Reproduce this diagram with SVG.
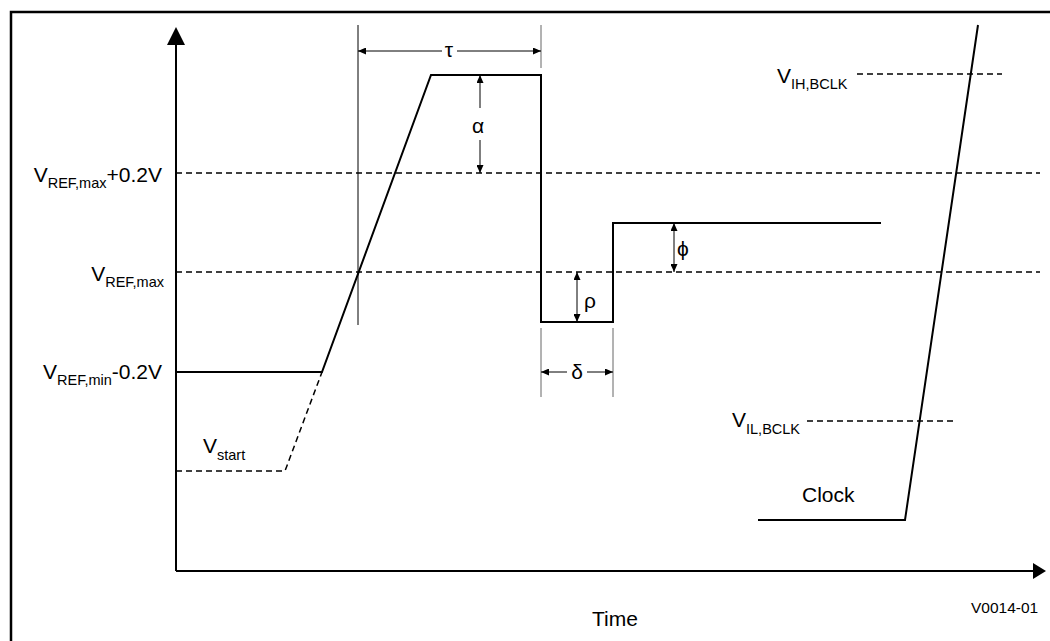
<svg xmlns="http://www.w3.org/2000/svg" width="1050" height="641" viewBox="0 0 1050 641">
<style>
text{font-family:"Liberation Sans",Arial,sans-serif;fill:#000}
.lbl{font-size:21px}
.sub{font-size:14.5px}
.gr{font-size:21px}
.sig{fill:none;stroke:#000;stroke-width:2}
.dash{fill:none;stroke:#000;stroke-width:1.5;stroke-dasharray:6 4}
.thin{fill:none;stroke:#000;stroke-width:1}
.tick{fill:none;stroke:#666;stroke-width:1}
.ax{fill:none;stroke:#000;stroke-width:2}
</style>
<defs>
<marker id="ah" viewBox="0 0 10 10" refX="10" refY="5" markerWidth="8" markerHeight="7" markerUnits="userSpaceOnUse" orient="auto-start-reverse" preserveAspectRatio="none">
<path d="M0,0 L10,5 L0,10 Z" fill="#000"/>
</marker>
</defs>
<rect width="1050" height="641" fill="#fff"/>
<g id="frame"><path d="M11,641 V12 H1050" fill="none" stroke="#000" stroke-width="2.5"/></g>
<g id="axes">
<path class="ax" d="M176,571 V40"/>
<path d="M176,27 L167,45 L185,45 Z" fill="#000"/>
<path class="ax" d="M176,571 H1035"/>
<path d="M1046,571 L1033,563 L1033,579 Z" fill="#000"/>
</g>
<g id="levels">
<path class="dash" d="M176,173 H1040"/>
<path class="dash" d="M176,272 H1040"/>
<path class="dash" d="M176,471 H285 L322,372"/>
<path class="dash" d="M857,74 H1002"/>
<path class="dash" d="M807,421 H953"/>
</g>
<g id="signal">
<path class="sig" d="M176,372 H322 L431,75 H541 V322 H613 V223 H881"/>
</g>
<g id="clock">
<path class="sig" d="M758,520 H905 L978,25"/>
</g>
<g id="connectors">
<path class="thin" d="M358,25 V325"/>
<path class="tick" d="M541,25 V68"/>
<path class="tick" d="M541,328 V397"/>
<path class="tick" d="M613,328 V397"/>
<path class="thin" d="M442,51 H358" marker-end="url(#ah)"/>
<path class="thin" d="M457,51 H541" marker-end="url(#ah)"/>
<path class="thin" d="M480,108 V75" marker-end="url(#ah)"/>
<path class="thin" d="M480,140 V173" marker-end="url(#ah)"/>
<path class="thin" d="M577,272 V322" marker-start="url(#ah)" marker-end="url(#ah)"/>
<path class="thin" d="M674,223 V272" marker-start="url(#ah)" marker-end="url(#ah)"/>
<path class="thin" d="M567,372 H541" marker-end="url(#ah)"/>
<path class="thin" d="M587,372 H613" marker-end="url(#ah)"/>
</g>
<g id="labels">
<text class="lbl" x="162" y="182" text-anchor="end">V<tspan class="sub" dy="6">REF,max</tspan><tspan dy="-6">+0.2V</tspan></text>
<text class="lbl" x="164" y="281" text-anchor="end">V<tspan class="sub" dy="6">REF,max</tspan></text>
<text class="lbl" x="162" y="379" text-anchor="end">V<tspan class="sub" dy="6">REF,min</tspan><tspan dy="-6">-0.2V</tspan></text>
<text class="lbl" x="203" y="453">V<tspan class="sub" dy="7">start</tspan></text>
<text class="lbl" x="777" y="83">V<tspan class="sub" dy="6">IH,BCLK</tspan></text>
<text class="lbl" x="732" y="427">V<tspan class="sub" dy="7">IL,BCLK</tspan></text>
<text class="lbl" x="802" y="502">Clock</text>
<text class="lbl" x="592" y="626">Time</text>
<text x="971" y="613" font-size="15.5">V0014-01</text>
<text class="gr" x="449" y="57" text-anchor="middle">τ</text>
<text class="gr" x="478" y="133" text-anchor="middle">α</text>
<text class="gr" x="584" y="308">ρ</text>
<text class="gr" x="677" y="256">ϕ</text>
<text class="gr" x="577" y="379" text-anchor="middle">δ</text>
</g>
</svg>
